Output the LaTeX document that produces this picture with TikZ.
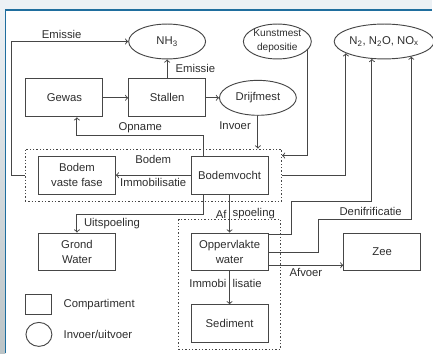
\documentclass[tikz,border=0pt]{standalone}
\usepackage{fontspec}
\setmainfont{Liberation Sans}
\usetikzlibrary{positioning,arrows,calc,fit,shapes.geometric}
\definecolor{colorline} {RGB}{ 70, 70, 70}
\definecolor{colortext} {RGB}{ 45, 45, 45}
\definecolor{colorframe}{RGB}{ 31,110,158}
\definecolor{colorband} {RGB}{236,241,245}
\definecolor{colorside} {RGB}{188,196,198}

\begin{document}
\begin{tikzpicture}[
    x=0.75pt, y=-0.75pt,
    font={\fontsize{8.5pt}{11.5pt}\selectfont},
    base/.style={text=colortext,draw=colorline,line width=0.7pt,align=center},
    box/.style={base,rectangle,inner sep=2pt,minimum width=57.75pt,minimum height=28.5pt},
    io/.style={base,ellipse,inner sep=0pt,minimum width=57.75pt,minimum height=26.25pt},
    txt/.style={text=colortext,inner sep=2pt},
    flow/.style={->,draw=colorline,line width=0.7pt},
    dotbox/.style={draw=colorline,dash pattern=on 1pt off 1.5pt,line width=0.8pt,inner sep=0pt},
]

    % frame
    \fill[colorband] (0,0) rectangle (433,10);
    \shade[top color=colorband,bottom color=colorside] (0,10) rectangle (5.5,354);
    \draw[colorframe,line width=1.2pt] (433,10) -- (5.5,10) -- (5.5,354);
    \useasboundingbox (0,0) rectangle (433,354);

    \node[box]                          (gewas)     at (64.5,98) {Gewas};
    \node[box,right=18.75pt of gewas]   (stallen)   {Stallen};
    \node[io,above=14.25pt of stallen]  (nh3)       {NH\textsubscript{3}};
    \node[io,right=9.75pt of stallen]   (drijfmest) {Drijfmest};
    \node[io,minimum width=51pt,inner xsep=-3pt,inner ysep=-3pt,right=27.75pt of nh3,
          font={\fontsize{7.6pt}{10.5pt}\selectfont}] (kunstmest) {Kunstmest\\depositie};
    \node[io,minimum width=75pt,right=16.5pt of kunstmest] (nox) {N\textsubscript{2}, N\textsubscript{2}O, NO\textsubscript{x}};

    \node[box]                          (bodemvocht) at (230,175.5) {Bodemvocht};
    \node[box,left=56.25pt of bodemvocht]  (vast)     {Bodem\\vaste fase};
    \node[box,below=28.5pt of bodemvocht]  (opp)      {Oppervlakte\\water};
    \node[box,below=24.75pt of opp]        (sediment) {Sediment};
    \node[box,left=56.25pt of opp]         (grond)    {Grond\\Water};
    \node[box,right=56.25pt of opp]        (zee)      {Zee};

    % compartments
    \node[dotbox,fit=(vast)(bodemvocht),inner xsep=9.75pt,inner ysep=5pt] (bodem) {};
    \coordinate (wtl) at ($(opp.north west)+(-12,-13)$);
    \coordinate (wbr) at ($(sediment.south east)+(12,6)$);
    \node[dotbox,fit=(wtl)(wbr)] (water) {};

    \draw[flow] (gewas) -- (stallen);
    \draw[flow] (stallen) -- (drijfmest);
    \draw[flow] (stallen) -- node[right=4pt,txt]{Emissie} (nh3);
    \draw[flow] (bodem.west) -- ++(-13,0) |- node[pos=0.715,above,txt]{Emissie} (nh3);

    \draw[flow] ([xshift=9.75pt]bodemvocht.north west) -- ++(0,-20) -| node[pos=0.25,above,txt]{Opname} ([xshift=9.4pt]gewas.south);
    \draw[flow] (drijfmest) -- node[pos=0.3,left=3pt,txt]{Invoer} (drijfmest |- bodem.north);
    \draw[flow] (kunstmest.-15) |- ([yshift=-5.25pt]bodem.north east);

    \draw[flow] (bodemvocht) -- node[above=6pt,txt]{Bodem} node[below=0pt,txt]{Immobilisatie} (vast);
    \draw[flow] ([xshift=9.75pt]bodemvocht.south west) -- ++(0,20) -| node[pos=0.75,right=3pt,txt]{Uitspoeling} (grond.north);
    \draw[flow] (bodemvocht) -- node[pos=0.51,left=0pt,txt]{Af} node[pos=0.51,right=0pt,txt]{spoeling} (opp);
    \draw[flow] (opp) -- node[pos=0.38,left=0pt,txt]{Immobi} node[pos=0.38,right=0pt,txt]{lisatie} (sediment);

    % to N2, N2O, NOx
    \coordinate (c1) at ($(bodem.south east)+(9,0)$);
    \coordinate (c2) at ($(water.north east)+(38,0)$);
    \draw[flow] (bodem.east) -| (nox.-163);
    \draw[flow] ([yshift=-1.5pt]opp.north east) -| (c1) -| (nox.-125);
    \draw[flow] (opp.east) -| (c2) -| node[pos=0.28,above,txt]{Denifrificatie} (nox.-29);
    \draw[flow] ([yshift=-10pt]opp.east) -- node[below,txt]{Afvoer} ([yshift=-10pt]opp.east -| zee.west);

    % Legend
    \node[box,minimum width=19.5pt,minimum height=15pt] (legbox) at (39,305) {};
    \node[txt,right=6.25pt of legbox] (legboxtxt) {Compartiment};
    \node[io,minimum width=19.5pt,minimum height=18pt] (legio) at (39,335) {};
    \node[txt,right=6.25pt of legio] (legiotxt) {Invoer/uitvoer};

\end{tikzpicture}
\end{document}
